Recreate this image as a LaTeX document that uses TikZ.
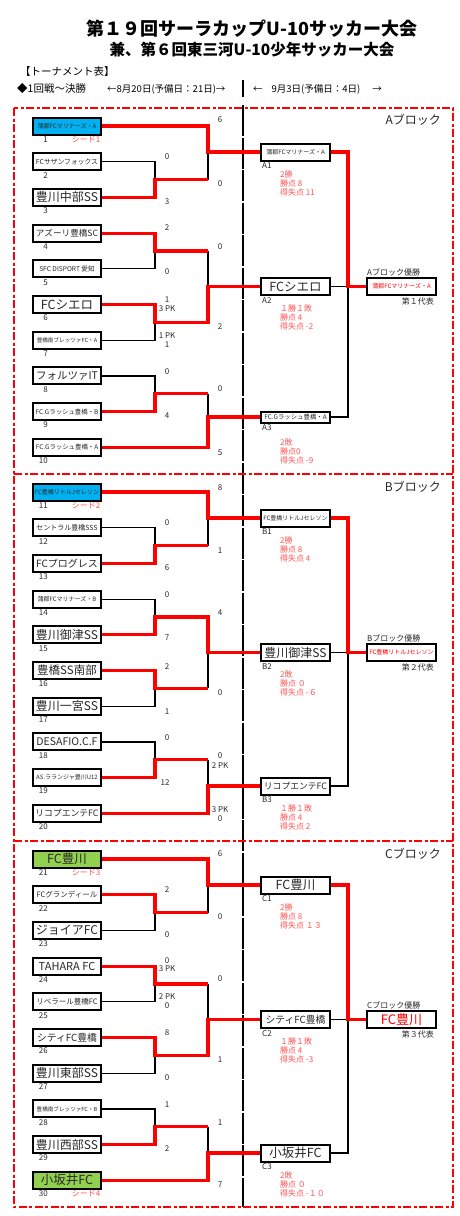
\documentclass[tikz,border=0pt]{standalone}
\usepackage{fontspec}
\setmainfont{Noto Sans CJK JP}
\usetikzlibrary{positioning}
\definecolor{bracketred}{RGB}{255,0,0}
\definecolor{statred}{RGB}{255,80,80}
\definecolor{seedblue}{RGB}{0,176,240}
\definecolor{seedgreen}{RGB}{146,208,80}
\definecolor{inkgray}{RGB}{40,40,40}
\newcommand{\fsz}[1]{\fontsize{#1}{#1}\selectfont}
\tikzset{
  team/.style={draw, line width=2pt, minimum width=68pt, minimum height=17pt, inner sep=0pt, text=inkgray, fill=white},
  grpbox/.style={team, minimum width=69pt},
  winbox/.style={grpbox, text=bracketred},
  win/.style={draw=bracketred, line width=3.2pt},
  lose/.style={draw=black, line width=1.2pt},
  score/.style={text=inkgray, font=\fsz{8}, inner sep=0pt},
  numlab/.style={text=inkgray, font=\fsz{8}, inner sep=0pt, anchor=east},
  grplab/.style={text=inkgray, font=\fsz{8}, inner sep=0pt, anchor=west},
  seedlab/.style={text=statred, font=\fsz{8}, inner sep=0pt},
  stat/.style={text=statred, font=\fontsize{8}{9}\selectfont, inner sep=0pt, anchor=north west, align=left},
  blockline/.style={draw=bracketred, line width=2.5pt, dash pattern=on 8pt off 2.5pt on 3pt off 2.5pt},
  divider/.style={draw=black, line width=1.5pt, dash pattern=on 31pt off 1.5pt},
}
\begin{document}
\begin{tikzpicture}[x=1pt,y=-1pt]
\useasboundingbox (0,0) rectangle (460,1216);

% Heading
\node[font=\bfseries\fsz{18}] (title) at (252,29) {第１９回サーラカップU-10サッカー大会};
\node[font=\bfseries\fsz{15.5}] (subtitle) at (252,50) {兼、第６回東三河U-10少年サッカー大会};
\node[anchor=west, inner sep=0pt, font=\fsz{10.5}] (kind) at (20,72) {【トーナメント表】};
\node[anchor=west, inner sep=0pt, font=\fsz{10.5}] (round) at (17,89) {◆1回戦～決勝};
\node[anchor=west, inner sep=0pt, font=\fsz{9.5}] (day1) at (107,89) {←8月20日(予備日：21日)→};
\node[anchor=west, inner sep=0pt, font=\fsz{9.5}] (day2) at (253,89) {←\hspace{9pt}9月3日(予備日：4日)\hspace{12pt}→};
\draw[divider] (243,80) -- (243,97);
\draw[divider] (243,105) -- (243,1207);

% Block frames
\draw[blockline] (14,108) rectangle (453,1207);
\draw[blockline] (14,474) -- (453,474);
\draw[blockline] (14,841) -- (453,841);
\node[anchor=east, inner sep=0pt, font=\fsz{12}, text=inkgray] (blka) at (441,120) {Aブロック};
\node[anchor=east, inner sep=0pt, font=\fsz{12}, text=inkgray] (blkb) at (441,487) {Bブロック};
\node[anchor=east, inner sep=0pt, font=\fsz{12}, text=inkgray] (blkc) at (441,854) {Cブロック};

% Block A teams
\node[team, fill=seedblue, font=\fsz{6}] (t1) at (67,126) {蒲郡FCマリナーズ・A};
\node[team, font=\fsz{6.8}] (t2) at (67,161.7) {FCサザンフォックス};
\node[team, font=\fsz{12}] (t3) at (67,197.4) {豊川中部SS};
\node[team, font=\fsz{8.6}] (t4) at (67,233.1) {アズーリ豊橋SC};
\node[team, font=\fsz{6.6}] (t5) at (67,268.8) {SFC DISPORT 愛知};
\node[team, font=\fsz{12.5}] (t6) at (67,304.5) {FCシエロ};
\node[team, font=\fsz{5.6}] (t7) at (67,340.2) {豊橋南ブレッツァFC・A};
\node[team, font=\fsz{10.5}] (t8) at (67,375.9) {フォルツァIT};
\node[team, font=\fsz{6.4}] (t9) at (67,411.6) {FC.Gラッシュ豊橋・B};
\node[team, font=\fsz{6.4}] (t10) at (67,447.3) {FC.Gラッシュ豊橋・A};

% Block B teams
\node[team, fill=seedblue, font=\fsz{6}] (t11) at (67,492) {FC豊橋リトルJセレソン};
\node[team, font=\fsz{7}] (t12) at (67,527.7) {セントラル豊橋SSS};
\node[team, font=\fsz{10}] (t13) at (67,563.4) {FCプログレス};
\node[team, font=\fsz{6}] (t14) at (67,599.1) {蒲郡FCマリナーズ・B};
\node[team, font=\fsz{12}] (t15) at (67,634.8) {豊川御津SS};
\node[team, font=\fsz{11.5}] (t16) at (67,670.5) {豊橋SS南部};
\node[team, font=\fsz{12}] (t17) at (67,706.2) {豊川一宮SS};
\node[team, font=\fsz{10.5}] (t18) at (67,741.9) {DESAFIO.C.F};
\node[team, font=\fsz{6}] (t19) at (67,777.6) {AS.ラランジャ豊川U12};
\node[team, font=\fsz{8.8}] (t20) at (67,813.3) {リコプエンテFC};

% Block C teams
\node[team, fill=seedgreen, font=\fsz{12.5}] (t21) at (67,859) {FC豊川};
\node[team, font=\fsz{7.5}] (t22) at (67,894.7) {FCグランディール};
\node[team, font=\fsz{12}] (t23) at (67,930.4) {ジョイアFC};
\node[team, font=\fsz{11}] (t24) at (67,966.1) {TAHARA FC};
\node[team, font=\fsz{7.5}] (t25) at (67,1001.8) {リベラール豊橋FC};
\node[team, font=\fsz{9.8}] (t26) at (67,1037.5) {シティFC豊橋};
\node[team, font=\fsz{12}] (t27) at (67,1073.2) {豊川東部SS};
\node[team, font=\fsz{5.6}] (t28) at (67,1108.9) {豊橋南ブレッツァFC・B};
\node[team, font=\fsz{12}] (t29) at (67,1144.6) {豊川西部SS};
\node[team, fill=seedgreen, font=\fsz{12.5}] (t30) at (67,1180.3) {小坂井FC};

\foreach \n in {1,...,30}
  \node[numlab] (n\n) at ([xshift=16pt,yshift=-4pt]t\n.south west) {\n};
\node[seedlab] (sd1) at ([xshift=-16pt,yshift=-4pt]t1.south east) {シード1};
\node[seedlab] (sd2) at ([xshift=-16pt,yshift=-4pt]t11.south east) {シード2};
\node[seedlab] (sd3) at ([xshift=-16pt,yshift=-4pt]t21.south east) {シード3};
\node[seedlab] (sd4) at ([xshift=-16pt,yshift=-4pt]t30.south east) {シード4};

% League boxes
\node[grpbox, font=\fsz{6}] (a1) at (295.5,152) {蒲郡FCマリナーズ・A};
\node[grpbox, font=\fsz{12.5}] (a2) at (295.5,286.5) {FCシエロ};
\node[grpbox, font=\fsz{6.4}, minimum height=11pt] (a3) at (295.5,417) {FC.Gラッシュ豊橋・A};
\node[grpbox, font=\fsz{6}] (b1) at (295.5,518) {FC豊橋リトルJセレソン};
\node[grpbox, font=\fsz{12}] (b2) at (295.5,652.5) {豊川御津SS};
\node[grpbox, font=\fsz{8.8}] (b3) at (295.5,786) {リコプエンテFC};
\node[grpbox, font=\fsz{12.5}] (c1) at (295.5,885) {FC豊川};
\node[grpbox, font=\fsz{9.8}] (c2) at (295.5,1019.5) {シティFC豊橋};
\node[grpbox, font=\fsz{12.5}] (c3) at (295.5,1153) {小坂井FC};
\foreach \g in {a1,a2,a3,b1,b2,b3,c1,c2,c3}
  \node[grplab] (l\g) at ([xshift=2pt,yshift=-4.5pt]\g.south west) {\MakeUppercase{\g}};

% League results
\node[stat] (sta1) at (280,170.5) {2勝\\勝点 8\\得失点 11};
\node[stat] (sta2) at (280,304.5) {１勝１敗\\勝点 4\\得失点 -2};
\node[stat] (sta3) at (280,438.5) {2敗\\勝点0\\得失点 -9};
\node[stat] (stb1) at (280,536.5) {2勝\\勝点 8\\得失点 4};
\node[stat] (stb2) at (280,671) {2敗\\勝点 ０\\得失点 -６};
\node[stat] (stb3) at (280,804.5) {１勝１敗\\勝点 4\\得失点 2};
\node[stat] (stc1) at (280,903.5) {2勝\\勝点 8\\得失点 １３};
\node[stat] (stc2) at (280,1038) {１勝１敗\\勝点 4\\得失点 -3};
\node[stat] (stc3) at (280,1171.5) {2敗\\勝点 ０\\得失点 -１０};

% Block winners
\node[winbox, font=\fsz{6}] (aw) at (401.5,286.5) {蒲郡FCマリナーズ・A};
\node[winbox, font=\fsz{6}] (bw) at (401.5,652.5) {FC豊橋リトルJセレソン};
\node[winbox, font=\fsz{13}] (cw) at (401.5,1019.5) {FC豊川};
\node[grplab, anchor=south west] (wla) at ([xshift=1pt,yshift=1pt]aw.north west) {Aブロック優勝};
\node[grplab, anchor=south west] (wlb) at ([xshift=1pt,yshift=1pt]bw.north west) {Bブロック優勝};
\node[grplab, anchor=south west] (wlc) at ([xshift=1pt,yshift=1pt]cw.north west) {Cブロック優勝};
\node[grplab, anchor=north east] (rpa) at ([xshift=-3pt,yshift=-2pt]aw.south east) {第１代表};
\node[grplab, anchor=north east] (rpb) at ([xshift=-3pt,yshift=-2pt]bw.south east) {第２代表};
\node[grplab, anchor=north east] (rpc) at ([xshift=-3pt,yshift=-2pt]cw.south east) {第３代表};

% Junctions
\coordinate (pa1) at (155,179.5);  \coordinate (qa1) at (208,179.5);
\coordinate (pa2) at (155,251);    \coordinate (qa2) at (208,251);
\coordinate (pa3) at (155,322.4);  \coordinate (qa3) at (208,322.4);
\coordinate (pa4) at (155,393.8);  \coordinate (qa4) at (208,393.8);
\coordinate (pb1) at (155,545.6);  \coordinate (qb1) at (208,545.6);
\coordinate (pb2) at (155,617);    \coordinate (qb2) at (208,617);
\coordinate (pb3) at (155,688.4);  \coordinate (qb3) at (208,688.4);
\coordinate (pb4) at (155,759.8);  \coordinate (qb4) at (208,759.8);
\coordinate (pc1) at (155,912.6);  \coordinate (qc1) at (208,912.6);
\coordinate (pc2) at (155,984);    \coordinate (qc2) at (208,984);
\coordinate (pc3) at (155,1055.4); \coordinate (qc3) at (208,1055.4);
\coordinate (pc4) at (155,1126.8); \coordinate (qc4) at (208,1126.8);
\coordinate (ra) at (348,286.5);
\coordinate (rb) at (348,652.5);
\coordinate (rc) at (348,1019.5);

% Block A bracket
\draw[lose] (t2.east) -| (pa1);
\draw[lose] (t5.east) -| (pa2);
\draw[lose] (t7.east) -| (pa3);
\draw[lose] (t8.east) -| (pa4);
\draw[lose] (qa1) -- (qa1 |- a1.west);
\draw[lose] (qa2) -- (qa2 |- a2.west);
\draw[lose] (qa4) -- (qa4 |- a3.west);
\draw[lose] (a2.east) -- (ra);
\draw[lose] (a3.east) -| (ra);
\draw[win] (t3.east) -| (pa1) -- (qa1);
\draw[win] (t1.east) -| (qa1 |- a1.west) -- (a1.west);
\draw[win] (t4.east) -| (pa2) -- (qa2);
\draw[win] (t6.east) -| (pa3) -- (qa3) -- (qa3 |- a2.west) -- (a2.west);
\draw[win] (t9.east) -| (pa4) -- (qa4);
\draw[win] (t10.east) -| (qa4 |- a3.west) -- (a3.west);
\draw[win] (a1.east) -| (ra) -- (aw.west);

% Block B bracket
\draw[lose] (t12.east) -| (pb1);
\draw[lose] (t14.east) -| (pb2);
\draw[lose] (t17.east) -| (pb3);
\draw[lose] (t18.east) -| (pb4);
\draw[lose] (qb1) -- (qb1 |- b1.west);
\draw[lose] (qb3) -- (qb3 |- b2.west);
\draw[lose] (qb4) -- (qb4 |- b3.west);
\draw[lose] (b2.east) -- (rb);
\draw[lose] (b3.east) -| (rb);
\draw[win] (t13.east) -| (pb1) -- (qb1);
\draw[win] (t11.east) -| (qb1 |- b1.west) -- (b1.west);
\draw[win] (t15.east) -| (pb2) -- (qb2) -- (qb2 |- b2.west) -- (b2.west);
\draw[win] (t16.east) -| (pb3) -- (qb3);
\draw[win] (t19.east) -| (pb4) -- (qb4);
\draw[win] (t20.east) -| (qb4 |- b3.west) -- (b3.west);
\draw[win] (b1.east) -| (rb) -- (bw.west);

% Block C bracket
\draw[lose] (t23.east) -| (pc1);
\draw[lose] (t25.east) -| (pc2);
\draw[lose] (t27.east) -| (pc3);
\draw[lose] (t28.east) -| (pc4);
\draw[lose] (qc1) -- (qc1 |- c1.west);
\draw[lose] (qc2) -- (qc2 |- c2.west);
\draw[lose] (qc4) -- (qc4 |- c3.west);
\draw[lose] (c2.east) -- (rc);
\draw[lose] (c3.east) -| (rc);
\draw[win] (t22.east) -| (pc1) -- (qc1);
\draw[win] (t21.east) -| (qc1 |- c1.west) -- (c1.west);
\draw[win] (t24.east) -| (pc2) -- (qc2);
\draw[win] (t26.east) -| (pc3) -- (qc3) -- (qc3 |- c2.west) -- (c2.west);
\draw[win] (t29.east) -| (pc4) -- (qc4);
\draw[win] (t30.east) -| (qc4 |- c3.west) -- (c3.west);
\draw[win] (c1.east) -| (rc) -- (cw.west);

% Scores
\foreach \x/\y/\s [count=\i] in {220/120/6, 220/184/0, 167/157/0, 167/202/3, 167/228/2, 167/272/0,
    220/247/0, 167/300/1, 167/309/3 PK, 167/336/1 PK, 167/345/1, 220/327/2, 167/372/0, 167/416/4,
    220/389/0, 220/453/5}
  \node[score] (sa\i) at (\x,\y) {\s};
\foreach \x/\y/\s [count=\i] in {220/488/8, 167/523/0, 220/551/1, 167/568/6, 167/595/0, 220/613/4,
    167/638/7, 167/667/2, 220/693/0, 167/712/1, 167/738/0, 220/756/0, 220/766/2 PK, 165/783/12,
    220/810/3 PK, 220/819/0}
  \node[score] (sb\i) at (\x,\y) {\s};
\foreach \x/\y/\s [count=\i] in {220/854/6, 167/890/2, 220/917/0, 167/935/0, 167/961/0, 167/969/3 PK,
    167/997/2 PK, 167/1006/0, 220/979/0, 167/1033/8, 167/1078/0, 220/1060/1, 167/1105/1, 167/1149/2,
    220/1123/1, 220/1185/7}
  \node[score] (sc\i) at (\x,\y) {\s};
\end{tikzpicture}
\end{document}
